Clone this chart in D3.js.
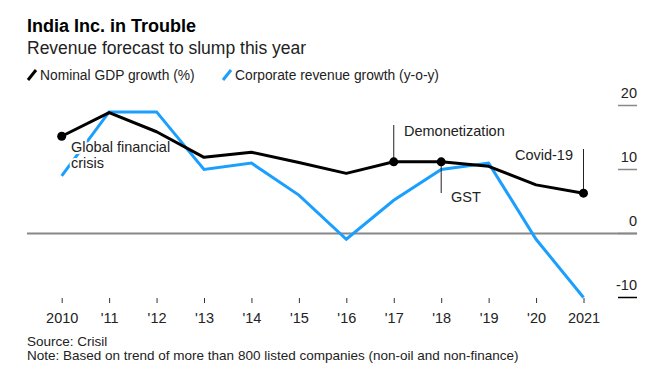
<!DOCTYPE html>
<html>
<head>
<meta charset="utf-8">
<script src="https://cdn.jsdelivr.net/npm/d3@7"></script>
<style>
  body { margin: 0; background: #fff; }
  text { font-family: "Liberation Sans", Arial, sans-serif; }
</style>
</head>
<body>
<div id="chart"></div>
<script>
// chart data
var years = [2010, 2011, 2012, 2013, 2014, 2015, 2016, 2017, 2018, 2019, 2020, 2021];
var yearLabels = ["2010", "'11", "'12", "'13", "'14", "'15", "'16", "'17", "'18", "'19", "'20", "2021"];
var gdpGrowth = [15.2, 18.9, 15.9, 11.9, 12.7, 11.1, 9.4, 11.2, 11.2, 10.5, 7.6, 6.3];
var revenueGrowth = [9.0, 19.0, 19.0, 10.0, 11.0, 6.0, -0.9, 5.2, 10.0, 11.0, -0.9, -10.0];
var yTicks = [20, 10, 0, -10];
var events = [
    { year: 2010, label: ["Global financial", "crisis"] },
    { year: 2017, label: ["Demonetization"] },
    { year: 2018, label: ["GST"] },
    { year: 2021, label: ["Covid-19"] }
];

var width = 656, height = 385;

var svg = d3.select("#chart").append("svg")
    .attr("width", width)
    .attr("height", height);

var x = d3.scaleLinear().domain([2010, 2021]).range([61.7, 583.5]);
var y = d3.scaleLinear().domain([-10, 20]).range([297.5, 105.5]);

// title block
svg.append("text").attr("x", 27).attr("y", 32)
    .attr("font-size", 18).attr("font-weight", "bold").attr("fill", "#000")
    .text("India Inc. in Trouble");
svg.append("text").attr("x", 27).attr("y", 54)
    .attr("font-size", 17.5).attr("fill", "#222")
    .text("Revenue forecast to slump this year");

// legend
var legend = [
    { name: "Nominal GDP growth (%)", color: "#000", x: 27 },
    { name: "Corporate revenue growth (y-o-y)", color: "#1a9fff", x: 222 }
];
legend.forEach(function (d) {
    svg.append("line")
        .attr("x1", d.x + 1).attr("y1", 80).attr("x2", d.x + 9).attr("y2", 70)
        .attr("stroke", d.color).attr("stroke-width", 3);
    svg.append("text").attr("x", d.x + 13).attr("y", 80)
        .attr("font-size", 13.8).attr("fill", "#222")
        .text(d.name);
});

// y axis ticks on the right
var yg = svg.append("g");
yTicks.forEach(function (t) {
    yg.append("line")
        .attr("x1", 618).attr("x2", 637)
        .attr("y1", y(t)).attr("y2", y(t))
        .attr("stroke", t == -10 ? "#000" : "#888").attr("stroke-width", 1.5);
    yg.append("text").attr("x", 637).attr("y", y(t) - 8)
        .attr("text-anchor", "end").attr("font-size", 14.5).attr("fill", "#222")
        .text(t);
});

// zero line
svg.append("line")
    .attr("x1", 27).attr("x2", 637)
    .attr("y1", y(0)).attr("y2", y(0))
    .attr("stroke", "#888").attr("stroke-width", 2);

// x axis
var xAxis = d3.axisBottom(x)
    .tickValues(years)
    .tickSize(5)
    .tickPadding(10)
    .tickFormat(function (d, i) { return yearLabels[i]; });
var xg = svg.append("g")
    .attr("transform", "translate(0,298)")
    .call(xAxis);
xg.select(".domain").remove();
xg.selectAll(".tick line").attr("stroke", "#333");
xg.selectAll(".tick text")
    .attr("font-size", 14.5).attr("fill", "#222")
    .style("font-family", "Liberation Sans, Arial, sans-serif");

var line = d3.line()
    .x(function (d, i) { return x(years[i]); })
    .y(function (d) { return y(d); });

// revenue line (under the annotation text)
svg.append("path").datum(revenueGrowth)
    .attr("d", line)
    .attr("fill", "none").attr("stroke", "#1a9fff").attr("stroke-width", 3)
    .attr("stroke-linejoin", "miter");

// annotation leaders
var leaders = [
    { year: 2017, y2: 125 },
    { year: 2018, y2: 193 },
    { year: 2021, y2: 149 }
];
leaders.forEach(function (d) {
    var i = years.indexOf(d.year);
    svg.append("line")
        .attr("x1", x(d.year)).attr("x2", x(d.year))
        .attr("y1", y(gdpGrowth[i])).attr("y2", d.y2)
        .attr("stroke", "#222").attr("stroke-width", 1);
});

// annotation labels with white halo
var labelPos = {
    2010: { x: 71, y: 152, anchor: "start" },
    2017: { x: 404, y: 136, anchor: "start" },
    2018: { x: 451, y: 202, anchor: "start" },
    2021: { x: 573, y: 160, anchor: "end" }
};
events.forEach(function (e) {
    var p = labelPos[e.year];
    var t = svg.append("text")
        .attr("x", p.x).attr("y", p.y)
        .attr("text-anchor", p.anchor)
        .attr("font-size", 14.5).attr("fill", "#222")
        .attr("stroke", "#fff").attr("stroke-width", 4)
        .attr("paint-order", "stroke");
    e.label.forEach(function (s, k) {
        t.append("tspan").attr("x", p.x).attr("dy", k == 0 ? 0 : 16).text(s);
    });
});

// gdp line
svg.append("path").datum(gdpGrowth)
    .attr("d", line)
    .attr("fill", "none").attr("stroke", "#000").attr("stroke-width", 3)
    .attr("stroke-linejoin", "round");

// event dots
svg.selectAll(".dot")
    .data(events)
    .enter().append("circle")
    .attr("class", "dot")
    .attr("cx", function (d) { return x(d.year); })
    .attr("cy", function (d) { return y(gdpGrowth[years.indexOf(d.year)]); })
    .attr("r", 4.5)
    .attr("fill", "#000");

// footer
svg.append("text").attr("x", 27).attr("y", 346)
    .attr("font-size", 13.5).attr("fill", "#222")
    .text("Source: Crisil");
svg.append("text").attr("x", 27).attr("y", 360)
    .attr("font-size", 13.5).attr("fill", "#222")
    .text("Note: Based on trend of more than 800 listed companies (non-oil and non-finance)");
</script>
</body>
</html>
